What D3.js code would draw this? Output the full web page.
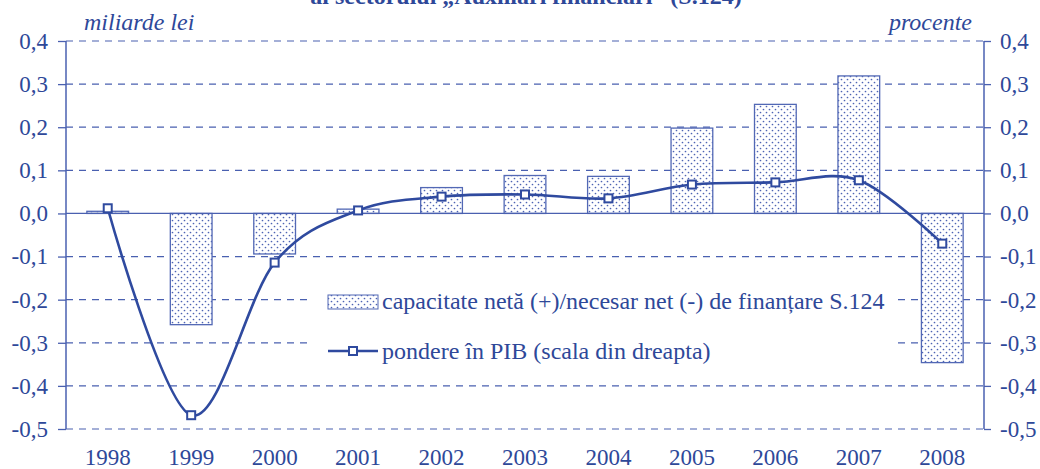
<!DOCTYPE html>
<html>
<head>
<meta charset="utf-8">
<script src="https://cdn.jsdelivr.net/npm/d3@7/dist/d3.min.js"></script>
<style>
  html, body { margin: 0; padding: 0; background: #fff; }
  svg { display: block; font-family: "Liberation Serif", "Times New Roman", serif; }
</style>
</head>
<body>
<svg id="chart" width="1040" height="469"></svg>
<script>
// date
const years = ['1998', '1999', '2000', '2001', '2002', '2003', '2004', '2005', '2006', '2007', '2008'];
const capacitate = [0.005, -0.258, -0.094, 0.010, 0.060, 0.088, 0.086, 0.198, 0.253, 0.319, -0.346];
const pondere = [0.012, -0.468, -0.114, 0.007, 0.039, 0.044, 0.035, 0.067, 0.072, 0.077, -0.070];
const tickValues = [-0.5, -0.4, -0.3, -0.2, -0.1, 0, 0.1, 0.2, 0.3, 0.4];

const titleText = 'al sectorului „Auxiliari financiari” (S.124)';
const leftUnit = 'miliarde lei';
const rightUnit = 'procente';
const legendBars = 'capacitate netă (+)/necesar net (-) de finanțare S.124';
const legendLine = 'pondere în PIB (scala din dreapta)';

const blue = '#2f4a9f';
const textBlue = '#2e4899';
const gridBlue = '#4a60b0';
const fmt = v => d3.format('.1f')(v).replace('.', ',').replace('−', '-');

const svg = d3.select('#chart');
const plotL = 66, plotR = 984, plotT = 41, plotB = 429;

const x = d3.scaleBand().domain(years).range([plotL, plotR]).paddingInner(0.5).paddingOuter(0.25);
const xc = d3.scaleBand().domain(years).range([plotL, plotR]);
const y = d3.scaleLinear().domain([-0.5, 0.4]).range([plotB, plotT]);
const y2 = d3.scaleLinear().domain([-0.5, 0.4]).range([plotB, plotT]);

// motiv cu puncte pentru bare
const defs = svg.append('defs');
const pat = defs.append('pattern')
  .attr('id', 'dots')
  .attr('patternUnits', 'userSpaceOnUse')
  .attr('width', 6).attr('height', 6);
pat.append('rect').attr('width', 6).attr('height', 6).attr('fill', '#fff');
pat.append('circle').attr('cx', 1.5).attr('cy', 1.5).attr('r', 0.85).attr('fill', '#4d63b3');
pat.append('circle').attr('cx', 4.5).attr('cy', 4.5).attr('r', 0.85).attr('fill', '#4d63b3');

// titlu (taiat sus)
svg.append('text')
  .attr('x', 526).attr('y', 4)
  .attr('text-anchor', 'middle')
  .attr('font-size', 24).attr('font-weight', 'bold')
  .attr('fill', textBlue)
  .text(titleText);

// linii de grila
svg.append('g')
  .selectAll('line')
  .data(tickValues.filter(v => v !== 0))
  .join('line')
  .attr('x1', plotL).attr('x2', plotR)
  .attr('y1', d => y(d)).attr('y2', d => y(d))
  .attr('stroke', gridBlue)
  .attr('stroke-width', 1.2)
  .attr('stroke-dasharray', '7,6');

// bare
svg.append('g')
  .selectAll('rect')
  .data(years.map((yr, i) => ({ yr, v: capacitate[i] })))
  .join('rect')
  .attr('x', d => x(d.yr))
  .attr('width', x.bandwidth())
  .attr('y', d => y(Math.max(0, d.v)))
  .attr('height', d => Math.abs(y(d.v) - y(0)))
  .attr('fill', 'url(#dots)')
  .attr('stroke', '#5268b5')
  .attr('stroke-width', 1.3);

// linia zero
svg.append('line')
  .attr('x1', plotL).attr('x2', plotR)
  .attr('y1', y(0)).attr('y2', y(0))
  .attr('stroke', gridBlue).attr('stroke-width', 1.3);

// axe
const axisL = svg.append('g')
  .attr('transform', `translate(${plotL},0)`)
  .call(d3.axisLeft(y).tickValues(tickValues).tickFormat(fmt).tickSize(8).tickPadding(10));
const axisR = svg.append('g')
  .attr('transform', `translate(${plotR},0)`)
  .call(d3.axisRight(y2).tickValues(tickValues).tickFormat(fmt).tickSize(7).tickPadding(9));
[axisL, axisR].forEach(a => {
  a.select('.domain').attr('stroke', gridBlue).attr('stroke-width', 1.5).attr('d', `M0,${plotT}V${plotB}`);
  a.selectAll('.tick line').attr('stroke', gridBlue).attr('stroke-width', 1.3);
  a.selectAll('.tick text')
    .attr('fill', textBlue)
    .attr('font-size', 23)
    .attr('font-family', '"Liberation Serif", serif');
});

// etichete ani
svg.append('g')
  .selectAll('text')
  .data(years)
  .join('text')
  .attr('x', d => xc(d) + xc.bandwidth() / 2)
  .attr('y', 465)
  .attr('text-anchor', 'middle')
  .attr('font-size', 23)
  .attr('fill', textBlue)
  .text(d => d);

// unitati
svg.append('text')
  .attr('x', 84).attr('y', 30)
  .attr('font-size', 24).attr('font-style', 'italic')
  .attr('fill', textBlue)
  .text(leftUnit);
svg.append('text')
  .attr('x', 972).attr('y', 30)
  .attr('text-anchor', 'end')
  .attr('font-size', 24).attr('font-style', 'italic')
  .attr('fill', textBlue)
  .text(rightUnit);

// linia ponderii
const pts = years.map((yr, i) => [xc(yr) + xc.bandwidth() / 2, y2(pondere[i])]);
svg.append('path')
  .datum(pts)
  .attr('d', d3.line().curve(d3.curveCatmullRom.alpha(0)))
  .attr('fill', 'none')
  .attr('stroke', blue)
  .attr('stroke-width', 2.6);
svg.append('g')
  .selectAll('rect')
  .data(pts)
  .join('rect')
  .attr('x', d => d[0] - 4).attr('y', d => d[1] - 4)
  .attr('width', 8).attr('height', 8)
  .attr('fill', '#fff')
  .attr('stroke', blue)
  .attr('stroke-width', 2);

// legenda (fundal alb peste grila)
const lg = svg.append('g');
lg.append('rect')
  .attr('x', 308).attr('y', 282).attr('width', 588).attr('height', 90)
  .attr('fill', '#fff');
lg.append('rect')
  .attr('x', 328).attr('y', 295).attr('width', 50).attr('height', 14)
  .attr('fill', 'url(#dots)').attr('stroke', '#5268b5').attr('stroke-width', 1);
lg.append('text')
  .attr('x', 382).attr('y', 309)
  .attr('font-size', 24).attr('fill', textBlue)
  .text(legendBars);
lg.append('line')
  .attr('x1', 328).attr('x2', 378).attr('y1', 351).attr('y2', 351)
  .attr('stroke', blue).attr('stroke-width', 2.6);
lg.append('rect')
  .attr('x', 349).attr('y', 347).attr('width', 8).attr('height', 8)
  .attr('fill', '#fff').attr('stroke', blue).attr('stroke-width', 2);
lg.append('text')
  .attr('x', 382).attr('y', 359)
  .attr('font-size', 24).attr('fill', textBlue)
  .text(legendLine);
</script>
</body>
</html>
